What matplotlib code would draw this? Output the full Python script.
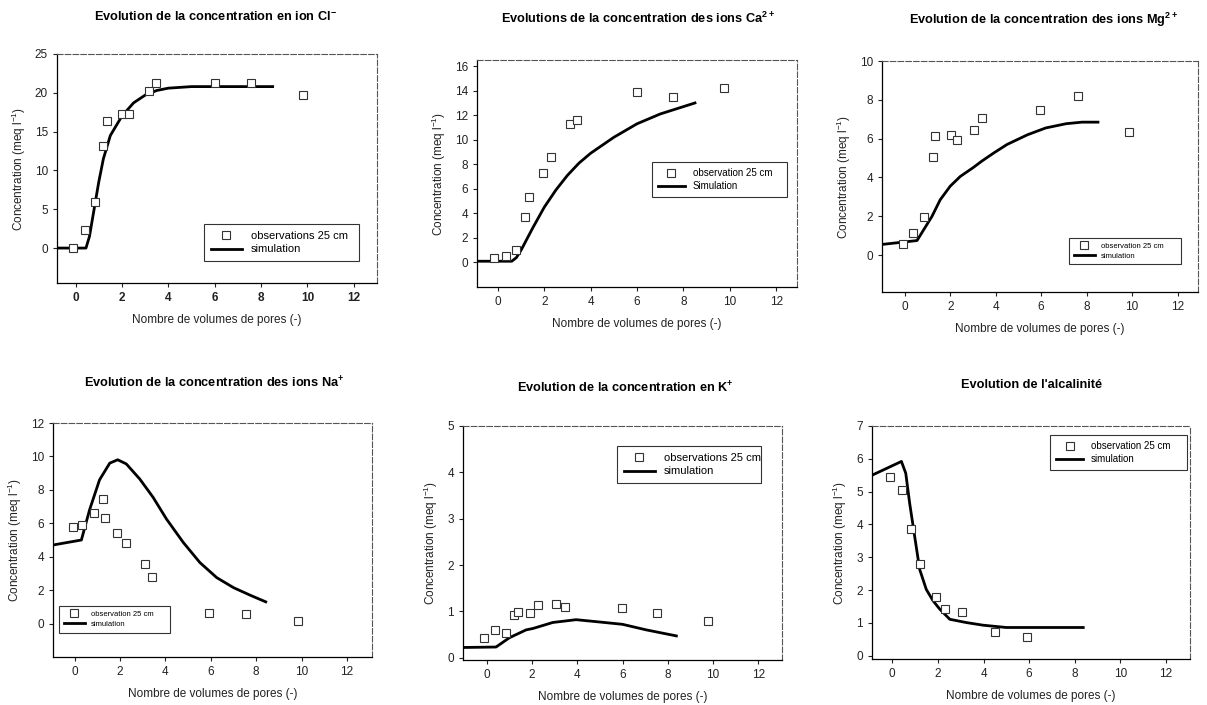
import matplotlib
matplotlib.use("Agg")
import matplotlib.pyplot as plt

plt.rcParams['font.family'] = ['Liberation Sans', 'DejaVu Sans']
plt.rcParams['mathtext.fontset'] = 'custom'
plt.rcParams['mathtext.rm'] = 'Liberation Sans'
plt.rcParams['mathtext.bf'] = 'Liberation Sans:bold'

# --- data ---
# Cl-
cl_obs_x = [-0.1, 0.4, 0.85, 1.2, 1.35, 2.0, 2.3, 3.15, 3.45, 6.0, 7.55, 9.8]
cl_obs_y = [0.0, 2.3, 5.9, 13.1, 16.4, 17.3, 17.3, 20.2, 21.3, 21.3, 21.3, 19.7]
cl_sim_x = [-0.8, 0.45, 0.6, 0.8, 1.0, 1.2, 1.5, 2.0, 2.5, 3.0, 3.5, 4.0, 5.0, 6.0, 7.0, 8.5]
cl_sim_y = [0.0, 0.0, 1.5, 5.0, 8.5, 11.5, 14.5, 17.0, 18.7, 19.7, 20.3, 20.6, 20.8, 20.8, 20.8, 20.8]

# Ca2+
ca_obs_x = [-0.15, 0.35, 0.8, 1.15, 1.35, 1.95, 2.3, 3.1, 3.4, 6.0, 7.55, 9.75]
ca_obs_y = [0.35, 0.5, 1.0, 3.7, 5.3, 7.3, 8.6, 11.3, 11.6, 13.9, 13.5, 14.2]
ca_sim_x = [-0.9, 0.6, 0.8, 1.0, 1.5, 2.0, 2.5, 3.0, 3.5, 4.0, 5.0, 6.0, 7.0, 8.0, 8.5]
ca_sim_y = [0.1, 0.1, 0.4, 1.0, 2.8, 4.5, 5.9, 7.1, 8.1, 8.9, 10.2, 11.3, 12.1, 12.7, 13.0]

# Mg2+
mg_obs_x = [-0.07, 0.36, 0.86, 1.23, 1.34, 2.03, 2.32, 3.05, 3.39, 5.97, 7.62, 9.85]
mg_obs_y = [0.55, 1.15, 1.95, 5.05, 6.15, 6.2, 5.95, 6.45, 7.05, 7.5, 8.2, 6.35]
mg_sim_x = [-1.0, 0.54, 1.2, 1.56, 2.0, 2.44, 3.0, 3.4, 3.9, 4.5, 5.4, 6.2, 7.1, 7.8, 8.5]
mg_sim_y = [0.55, 0.75, 2.0, 2.85, 3.55, 4.05, 4.5, 4.85, 5.25, 5.7, 6.2, 6.55, 6.77, 6.85, 6.85]

# Na+
na_obs_x = [-0.05, 0.34, 0.85, 1.25, 1.33, 1.87, 2.28, 3.09, 3.42, 5.94, 7.54, 9.84]
na_obs_y = [5.8, 5.9, 6.6, 7.45, 6.3, 5.4, 4.8, 3.55, 2.8, 0.65, 0.6, 0.15]
na_sim_x = [-0.95, 0.3, 0.66, 1.1, 1.55, 1.9, 2.28, 2.87, 3.46, 4.05, 4.79, 5.52, 6.26, 7.0, 7.73, 8.42]
na_sim_y = [4.7, 5.0, 6.8, 8.6, 9.6, 9.8, 9.55, 8.65, 7.55, 6.25, 4.85, 3.65, 2.75, 2.15, 1.7, 1.3]

# K+
k_obs_x = [-0.13, 0.38, 0.83, 1.2, 1.4, 1.93, 2.26, 3.04, 3.44, 5.99, 7.52, 9.78]
k_obs_y = [0.43, 0.6, 0.53, 0.93, 0.99, 0.96, 1.13, 1.16, 1.1, 1.07, 0.96, 0.79]
k_sim_x = [-1.05, 0.41, 1.0, 1.74, 2.04, 2.92, 3.95, 4.99, 6.0, 7.05, 8.38]
k_sim_y = [0.22, 0.23, 0.43, 0.6, 0.63, 0.76, 0.82, 0.77, 0.72, 0.6, 0.47]

# alcalinite
alc_obs_x = [-0.09, 0.41, 0.83, 1.23, 1.93, 2.3, 3.06, 4.49, 5.91]
alc_obs_y = [5.44, 5.06, 3.86, 2.81, 1.8, 1.42, 1.33, 0.71, 0.56]
alc_sim_x = [-0.89, 0.4, 0.59, 0.76, 0.98, 1.2, 1.49, 1.79, 2.08, 2.52, 3.25, 3.98, 5.0, 6.18, 8.37]
alc_sim_y = [5.5, 5.92, 5.56, 4.65, 3.64, 2.63, 2.02, 1.67, 1.42, 1.11, 1.01, 0.93, 0.86, 0.86, 0.86]

titles = [
    r"Evolution de la concentration en ion Cl$^{\mathbf{-}}$",
    r"Evolutions de la concentration des ions Ca$^{\mathbf{2+}}$",
    r"Evolution de la concentration des ions Mg$^{\mathbf{2+}}$",
    r"Evolution de la concentration des ions Na$^{\mathbf{+}}$",
    r"Evolution de la concentration en K$^{\mathbf{+}}$",
    "Evolution de l'alcalinité",
]
obs_labels = ["observations 25 cm", "observation 25 cm", "observation 25 cm",
              "observation 25 cm", "observations 25 cm", "observation 25 cm"]
sim_labels = ["simulation", "Simulation", "simulation", "simulation", "simulation", "simulation"]
y_ticks = [range(0, 26, 5), range(0, 17, 2), range(0, 11, 2),
           range(0, 13, 2), range(0, 6, 1), range(0, 8, 1)]
x_ticks = range(0, 13, 2)

W, H = 1207, 705
fig = plt.figure(figsize=(W / 100, H / 100), dpi=100)

# axes boxes in pixels: left, top, right, bottom
boxes = [(57, 54, 377, 283), (477, 60, 797, 287), (882, 61, 1198, 292),
         (53, 423, 372, 657), (463, 426, 782, 660), (872, 426, 1190, 659)]
xlims = [(-0.8, 13.0), (-0.9, 12.9), (-1.0, 12.9), (-0.95, 13.1), (-1.05, 13.05), (-0.89, 13.05)]
ylims = [(-4.5, 25), (-2.0, 16.5), (-1.9, 10), (-2.0, 12), (-0.05, 5), (-0.1, 7)]
title_pos = [(215, 17), (638, 18), (1044, 20), (214, 383), (625, 388), (1032, 385)]
# legend boxes in axes fractions: x0, y0, x1, y1 and font size
leg_boxes = [(0.46, 0.066, 0.944, 0.258, 8), (0.547, 0.37, 0.969, 0.55, 7),
             (0.592, 0.078, 0.946, 0.234, 5.5), (0.019, 0.073, 0.367, 0.218, 5.5),
             (0.483, 0.735, 0.934, 0.915, 8), (0.56, 0.781, 0.991, 0.961, 7)]

series = [(cl_obs_x, cl_obs_y, cl_sim_x, cl_sim_y),
          (ca_obs_x, ca_obs_y, ca_sim_x, ca_sim_y),
          (mg_obs_x, mg_obs_y, mg_sim_x, mg_sim_y),
          (na_obs_x, na_obs_y, na_sim_x, na_sim_y),
          (k_obs_x, k_obs_y, k_sim_x, k_sim_y),
          (alc_obs_x, alc_obs_y, alc_sim_x, alc_sim_y)]

for i, (ox, oy, sx, sy) in enumerate(series):
    l, t, r, b = boxes[i]
    ax = fig.add_axes([l / W, 1 - b / H, (r - l) / W, (b - t) / H])
    ax.plot(ox, oy, linestyle='none', marker='s', markersize=5.5,
            markerfacecolor='white', markeredgecolor='#333333', markeredgewidth=0.8,
            label=obs_labels[i], zorder=3)
    ax.plot(sx, sy, color='black', linewidth=2.0, label=sim_labels[i], zorder=2)
    ax.set_xlim(*xlims[i])
    ax.set_ylim(*ylims[i])
    ax.set_xticks(list(x_ticks))
    ax.set_yticks(list(y_ticks[i]))
    ax.tick_params(direction='out', length=3, width=0.8, labelsize=8.5, colors='#222222')
    if i == 0:
        for lab in ax.get_xticklabels():
            lab.set_fontweight('bold')
    ax.set_xlabel("Nombre de volumes de pores (-)", fontsize=8.5, color='#222222', labelpad=7)
    ax.set_ylabel(r"Concentration (meq l$^{-1}$)", fontsize=8.5, color='#222222', labelpad=5)
    for side in ['left', 'bottom']:
        ax.spines[side].set_color('black')
        ax.spines[side].set_linewidth(0.9)
    for side in ['top', 'right']:
        ax.spines[side].set_color('#555555')
        ax.spines[side].set_linewidth(0.8)
        ax.spines[side].set_linestyle((0, (5, 2)))

    x0, y0, x1, y1, fs = leg_boxes[i]
    leg = ax.legend(loc='upper left', bbox_to_anchor=(x0, y0, x1 - x0, y1 - y0),
                    mode='expand', borderaxespad=0, fontsize=fs, frameon=True,
                    fancybox=False, edgecolor='black', handlelength=2.8,
                    borderpad=0.6, labelspacing=0.35)
    leg.get_frame().set_linewidth(0.8)

    tx, ty = title_pos[i]
    fig.text(tx / W, 1 - ty / H, titles[i], ha='center', va='center',
             fontsize=9.2, fontweight='bold')

fig.savefig("out.png", dpi=100)
